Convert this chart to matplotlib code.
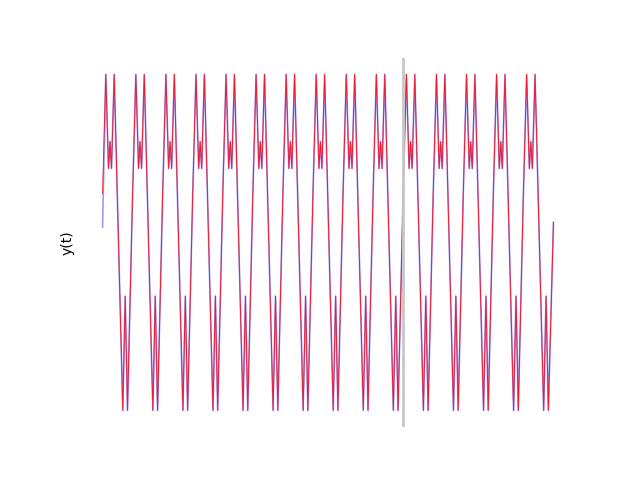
import numpy as np
import matplotlib
matplotlib.use("Agg")
import matplotlib.pyplot as plt

# one period of the signal (phase as fraction of a period)
period_phase = [0.0, 0.108, 0.198, 0.248, 0.298, 0.388, 0.674, 0.754, 0.830]
period_y = [0.29, 1.00, 0.44, 0.60, 0.44, 1.00, -1.00, -0.32, -1.00]
n_periods = 15
t_split = 10          # end of the fitted part (grey line)
y_end = 0.12          # last value at the right edge
y_start_data = 0.09   # the data curve starts a bit lower than the model


def build_series(first_value):
    t = np.concatenate([k + np.array(period_phase) for k in range(n_periods)] + [[n_periods]])
    y = np.concatenate([period_y] * n_periods + [[y_end]])
    y[0] = first_value
    return t, y


t_data, y_data = build_series(y_start_data)
t_pred, y_pred = build_series(period_y[0])

fig, ax = plt.subplots(figsize=(6.4, 4.8), dpi=100)
ax.plot(t_data, y_data, color="blue", lw=1.2, alpha=0.4)
ax.plot(t_pred, y_pred, color="red", lw=0.7, alpha=0.8)
ax.axvline(t_split, color="0.78", lw=2)

ax.set_ylabel("y(t)")
ax.set_xticks([])
ax.set_yticks([])
for side in ["top", "right", "bottom", "left"]:
    ax.spines[side].set_visible(False)

fig.savefig("out.png")
